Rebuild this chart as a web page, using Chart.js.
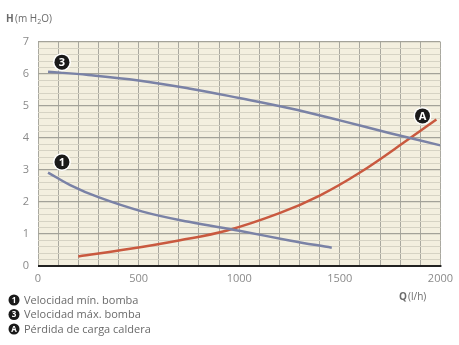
<!DOCTYPE html>
<html>
<head>
<meta charset="utf-8">
<script src="https://cdn.jsdelivr.net/npm/chart.js@4.4.1/dist/chart.umd.min.js"></script>
<style>
  html, body { margin: 0; padding: 0; background: #fff; }
  #wrap { width: 459px; height: 345px; position: relative; }
</style>
</head>
<body>
<div id="wrap"><canvas id="c" width="459" height="345"></canvas></div>
<script>
// curva velocidad mínima (1)
const qMin = [50, 160, 300, 520, 750, 1000, 1250, 1460];
const hMin = [2.92, 2.53, 2.15, 1.7, 1.38, 1.1, 0.8, 0.57];
// curva velocidad máxima (3)
const qMax = [50, 250, 500, 750, 1000, 1250, 1500, 1750, 2000];
const hMax = [6.07, 5.97, 5.8, 5.55, 5.25, 4.93, 4.55, 4.15, 3.77];
// pérdida de carga caldera (A)
const qLoss = [200, 450, 700, 935, 1200, 1400, 1600, 1850, 1980];
const hLoss = [0.3, 0.53, 0.8, 1.1, 1.65, 2.2, 2.92, 4.0, 4.58];

const xTicks = [0, 500, 1000, 1500, 2000];
const yTicks = [0, 1, 2, 3, 4, 5, 6, 7];

const badgeText = ["1", "3", "A"];
const badgeQ = [119, 119, 1911];
const badgeH = [3.25, 6.37, 4.69];
const legendText = ["Velocidad mín. bomba", "Velocidad máx. bomba", "Pérdida de carga caldera"];

const FONT = "'Open Sans', 'DejaVu Sans', sans-serif";

function pts(xs, ys) { return xs.map((x, i) => ({ x, y: ys[i] })); }

function badge(ctx, x, y, r, t) {
  ctx.save();
  ctx.beginPath();
  ctx.arc(x, y, r + 1.5, 0, Math.PI * 2);
  ctx.fillStyle = "#fff";
  ctx.fill();
  ctx.beginPath();
  ctx.arc(x, y, r, 0, Math.PI * 2);
  ctx.fillStyle = "#1a1a1a";
  ctx.fill();
  ctx.fillStyle = "#fff";
  ctx.font = "bold " + Math.round(r * 1.4) + "px " + FONT;
  ctx.textAlign = "center";
  ctx.textBaseline = "middle";
  ctx.fillText(t, x, y + 0.5);
  ctx.restore();
}

const bgPlugin = {
  id: "bg",
  beforeDraw(chart) {
    const { ctx, chartArea: a } = chart;
    ctx.save();
    ctx.fillStyle = "#f3efdf";
    ctx.fillRect(a.left, a.top, a.right - a.left, a.bottom - a.top);
    ctx.restore();
  }
};

const extras = {
  id: "extras",
  afterDraw(chart) {
    const { ctx, scales: { x, y }, chartArea: a } = chart;
    // eje inferior
    ctx.save();
    ctx.strokeStyle = "#222";
    ctx.lineWidth = 2;
    ctx.beginPath();
    ctx.moveTo(a.left, a.bottom);
    ctx.lineTo(a.right + 1, a.bottom);
    ctx.stroke();
    ctx.restore();

    badgeText.forEach((t, i) => badge(ctx, x.getPixelForValue(badgeQ[i]), y.getPixelForValue(badgeH[i]), 7.5, t));

    ctx.save();
    ctx.fillStyle = "#6a6a6a";
    ctx.textBaseline = "middle";
    // título eje Y
    ctx.font = "bold 10px " + FONT;
    ctx.fillText("H", 6, 19);
    ctx.font = "10px " + FONT;
    ctx.fillText("(m H", 15, 19);
    let w = ctx.measureText("(m H").width;
    ctx.font = "7px " + FONT;
    ctx.fillText("2", 15 + w, 22);
    let w2 = ctx.measureText("2").width;
    ctx.font = "10px " + FONT;
    ctx.fillText("O)", 15 + w + w2, 19);
    // título eje X
    ctx.font = "bold 10px " + FONT;
    ctx.fillText("Q", 399, 297);
    ctx.font = "10px " + FONT;
    ctx.fillText("(l/h)", 408, 297);
    // leyenda
    ctx.font = "11px " + FONT;
    legendText.forEach((t, i) => {
      const yy = 300 + i * 14.5;
      badge(ctx, 14, yy, 5.5, badgeText[i]);
      ctx.fillStyle = "#6a6a6a";
      ctx.textAlign = "left";
      ctx.fillText(t, 24, yy + 0.5);
    });
    ctx.restore();
  }
};

new Chart(document.getElementById("c"), {
  type: "scatter",
  data: {
    datasets: [
      { data: pts(qMin, hMin), showLine: true, borderColor: "#7a82a6", borderWidth: 2.5, pointRadius: 0, tension: 0.4 },
      { data: pts(qMax, hMax), showLine: true, borderColor: "#7a82a6", borderWidth: 2.5, pointRadius: 0, tension: 0.4 },
      { data: pts(qLoss, hLoss), showLine: true, borderColor: "#c9593f", borderWidth: 2.5, pointRadius: 0, tension: 0.4 }
    ]
  },
  options: {
    responsive: false,
    animation: false,
    layout: { padding: { left: 0, right: 18, top: 42, bottom: 0 } },
    plugins: { legend: { display: false }, tooltip: { enabled: false } },
    scales: {
      x: {
        type: "linear", min: 0, max: 2000,
        afterFit(s) { s.height = 79; },
        afterBuildTicks(s) { s.ticks = []; for (let v = 0; v <= 2000; v += 100) s.ticks.push({ value: v }); },
        grid: { color: "#a9a89f", lineWidth: 1, drawTicks: false },
        border: { display: false },
        ticks: {
          autoSkip: false, maxRotation: 0, padding: 6,
          color: "#8a8a8a", font: { family: FONT, size: 11 },
          callback: v => xTicks.includes(v) ? String(v) : ""
        }
      },
      y: {
        min: 0, max: 7,
        afterFit(s) { s.width = 38; },
        afterBuildTicks(s) { s.ticks = []; for (let i = 0; i <= 35; i++) s.ticks.push({ value: i / 5 }); },
        grid: {
          drawTicks: false,
          color: c => Math.abs(c.tick.value - Math.round(c.tick.value)) < 1e-6 ? "#a3a299" : "#d6d3c4",
          lineWidth: c => Math.abs(c.tick.value - Math.round(c.tick.value)) < 1e-6 ? 1.3 : 1
        },
        border: { display: false },
        ticks: {
          autoSkip: false, padding: 9,
          color: "#8a8a8a", font: { family: FONT, size: 11 },
          callback: v => yTicks.some(t => Math.abs(t - v) < 1e-6) ? String(Math.round(v)) : ""
        }
      }
    }
  },
  plugins: [bgPlugin, extras]
});
</script>
</body>
</html>
